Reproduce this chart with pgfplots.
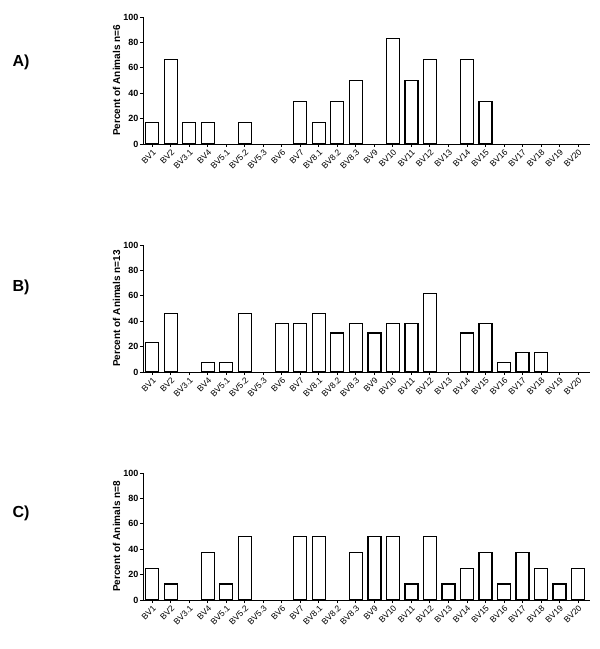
\documentclass[border=0pt]{standalone}
\usepackage{fontspec}
\setmainfont{Liberation Sans}
\usepackage{pgfplots}
\pgfplotsset{compat=1.18}
\pgfplotsset{
 bvstyle/.style={
  scale only axis, width=447pt, height=127pt,
  anchor=south west,
  xmin=-0.5, xmax=23.65, ymin=0, ymax=100,
  axis x line*=bottom, axis y line*=left,
  ytick={0,20,...,100},
  xtick={0,...,23},
  xticklabels={BV1,BV2,BV3.1,BV4,BV5.1,BV5.2,BV5.3,BV6,BV7,BV8.1,BV8.2,BV8.3,BV9,BV10,BV11,BV12,BV13,BV14,BV15,BV16,BV17,BV18,BV19,BV20},
  x tick label style={rotate=45, anchor=north east, font=\fontsize{8.5}{9}\selectfont, inner sep=1pt},
  y tick label style={font=\fontsize{9}{10}\selectfont\bfseries, inner sep=1.5pt},
  /pgf/number format/assume math mode=true,
  tick align=outside, major tick length=3pt,
  tick style={line width=0.8pt, black},
  axis line style={line width=0.9pt},
  ylabel style={font=\fontsize{10}{11}\selectfont\bfseries},
  ylabel shift=-2pt,
  ybar, bar width=13pt,
  clip=false,
 },
 bvbar/.style={draw=black, fill=white, line width=1.3pt,
   y filter/.expression={y==0 ? nan : y}, unbounded coords=discard},
}
\begin{document}
\begin{tikzpicture}
\useasboundingbox (0,0) rectangle (600pt,649pt);
% Panel A
\begin{axis}[bvstyle, at={(143pt,505pt)}, ylabel={Percent of Animals n=6}]
\addplot[bvbar] coordinates {(0,16.67) (1,66.67) (2,16.67) (3,16.67) (4,0) (5,16.67) (6,0) (7,0) (8,33.33) (9,16.67) (10,33.33) (11,50) (12,0) (13,83.33) (14,50) (15,66.67) (16,0) (17,66.67) (18,33.33) (19,0) (20,0) (21,0) (22,0) (23,0)};
\end{axis}
% Panel B
\begin{axis}[bvstyle, at={(143pt,277pt)}, ylabel={Percent of Animals n=13}]
\addplot[bvbar] coordinates {(0,23.08) (1,46.15) (2,0) (3,7.69) (4,7.69) (5,46.15) (6,0) (7,38.46) (8,38.46) (9,46.15) (10,30.77) (11,38.46) (12,30.77) (13,38.46) (14,38.46) (15,61.54) (16,0) (17,30.77) (18,38.46) (19,7.69) (20,15.38) (21,15.38) (22,0) (23,0)};
\end{axis}
% Panel C
\begin{axis}[bvstyle, at={(143pt,49pt)}, ylabel={Percent of Animals n=8}]
\addplot[bvbar] coordinates {(0,25) (1,12.5) (2,0) (3,37.5) (4,12.5) (5,50) (6,0) (7,0) (8,50) (9,50) (10,0) (11,37.5) (12,50) (13,50) (14,12.5) (15,50) (16,12.5) (17,25) (18,37.5) (19,12.5) (20,37.5) (21,25) (22,12.5) (23,25)};
\end{axis}
\node[font=\fontsize{16}{18}\selectfont\bfseries] at (21pt,587pt) {A)};
\node[font=\fontsize{16}{18}\selectfont\bfseries] at (21pt,362pt) {B)};
\node[font=\fontsize{16}{18}\selectfont\bfseries] at (21pt,136pt) {C)};
\end{tikzpicture}
\end{document}
